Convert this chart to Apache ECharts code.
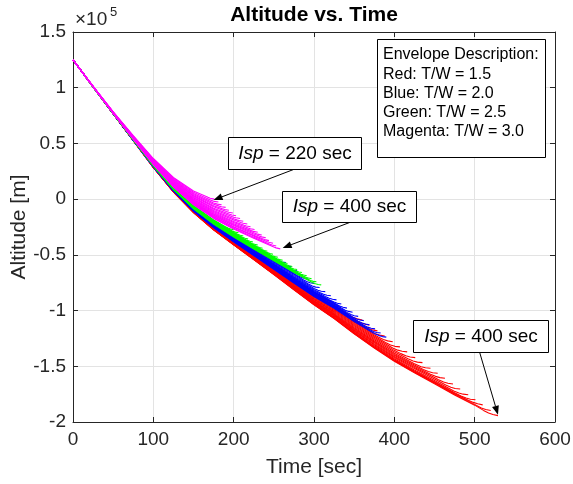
<!DOCTYPE html>
<html>
<head>
<meta charset="utf-8">
<script src="https://cdn.jsdelivr.net/npm/echarts@6/dist/echarts.min.js"></script>
<style>html,body{margin:0;padding:0;background:#fff}#c{width:573px;height:484px}</style>
</head>
<body>
<div id="c"></div>
<script>
// ---------- data ----------
const xTicks = [0, 100, 200, 300, 400, 500, 600];
const yTicks = [-200000, -150000, -100000, -50000, 0, 50000, 100000, 150000];
const ispValues = [220, 230, 240, 250, 260, 270, 280, 290, 300, 310, 320, 330, 340, 350, 360, 370, 380, 390, 400];

// Path (time s, altitude m) followed by the Isp = 400 s trajectory of each envelope
const redPath = [[0,125000],[25,100800],[50,76600],[75,52600],[100,28500],[125,6500],[150,-12000],[175,-27500],[200,-41000],[225,-54200],[250,-67600],[275,-81300],[300,-94800],[325,-107100],[350,-120800],[375,-133500],[400,-145300],[425,-155700],[450,-165400],[475,-175500],[500,-184600],[529,-197000]];
const bluePath = [[0,125000],[25,100800],[50,76700],[75,52800],[100,29000],[125,7400],[150,-10700],[175,-25550],[200,-38300],[225,-50600],[250,-62900],[275,-75300],[300,-87400],[325,-98000],[350,-109900],[375,-120500],[390,-126300]];
const greenPath = [[0,125000],[25,100800],[50,76800],[75,53200],[100,29700],[125,8600],[150,-8700],[175,-22600],[200,-34200],[225,-45000],[250,-55700],[275,-66200],[300,-76000],[309,-78900]];
const magentaPath = [[0,125000],[25,100900],[50,77000],[75,53800],[100,30900],[125,10750],[150,-5300],[175,-17600],[200,-27300],[225,-35700],[250,-43700],[258,-46000]];

// End point (time, altitude) of every trajectory, one per Isp value
const redTipTime = [360,369,379,388,398,407,416,426,435,445,454,463,473,482,492,501,510,520,529];
const redTipAlt = [-108400,-113100,-118200,-122800,-128000,-132600,-137100,-142200,-146700,-151800,-156300,-160800,-165900,-170400,-175500,-180100,-184600,-189700,-194300];
const blueTipTime = [265,272,279,286,293,300,307,314,321,328,334,341,348,355,362,369,376,383,390];
const blueTipAlt = [-57000,-60700,-64400,-68100,-71800,-75600,-79300,-83000,-86700,-90400,-94100,-97800,-101500,-105200,-109000,-112700,-116400,-120100,-123800];
const greenTipTime = [200,206,212,218,224,230,236,242,249,255,261,267,273,279,285,291,297,303,309];
const greenTipAlt = [-27500,-30200,-33000,-35700,-38500,-41200,-44000,-46700,-49500,-52200,-54900,-57700,-60400,-63200,-65900,-68700,-71400,-74200,-76900];
const magentaTipTime = [176,181,185,190,194,199,203,208,212,217,221,226,230,235,240,244,249,253,258];
const magentaTipAlt = [0,-2500,-5000,-7400,-9900,-12400,-14900,-17300,-19800,-22300,-24800,-27300,-29700,-32200,-34700,-37200,-39600,-42100,-44600];

// Flattening at the end of each trajectory: [duration s, altitude kept m]
const redHook = [18, 3000];
const blueHook = [14, 2500];
const greenHook = [11, 1500];
const magentaHook = [8, 700];

const legendLines = ['Envelope Description:', 'Red: T/W = 1.5', 'Blue: T/W = 2.0', 'Green: T/W = 2.5', 'Magenta: T/W = 3.0'];
const notes = [
  {text: '220 sec', tail: [276, 27000], tip: [175, -800]},
  {text: '400 sec', tail: [346, -20500], tip: [261, -43800]},
  {text: '400 sec', tail: [506, -137000], tip: [529, -193500]}
];

// ---------- build ----------
const FONT = "'Liberation Sans', Arial, Helvetica, sans-serif";
const AX = '#262626';

function pathAt(path, t) {
  for (let i = 1; i < path.length; i++) {
    if (t <= path[i][0]) {
      const [t0, a0] = path[i - 1], [t1, a1] = path[i];
      return a0 + (a1 - a0) * (t - t0) / (t1 - t0);
    }
  }
  return path[path.length - 1][1];
}
function buildCurve(path, T, A, hook) {
  const [wl, W] = hook;
  const L = A - pathAt(path, T) - W;
  const lift = t => L * (t / T) * (t / T);
  const pts = [];
  path.forEach(([t, a]) => { if (t < T - wl) pts.push([t, a + lift(t)]); });
  [0, 0.35, 0.65, 1].forEach(f => {
    const t = T - wl + f * wl;
    pts.push([t, pathAt(path, t) + lift(t) + W * f * f]);
  });
  return pts;
}

const envelopes = [
  {name: 'Red', color: '#ff0000', path: redPath, T: redTipTime, A: redTipAlt, hook: redHook},
  {name: 'Blue', color: '#0000ff', path: bluePath, T: blueTipTime, A: blueTipAlt, hook: blueHook},
  {name: 'Green', color: '#00ff00', path: greenPath, T: greenTipTime, A: greenTipAlt, hook: greenHook},
  {name: 'Magenta', color: '#ff00ff', path: magentaPath, T: magentaTipTime, A: magentaTipAlt, hook: magentaHook}
];

const series = [];
envelopes.forEach(env => {
  ispValues.forEach((isp, k) => {
    series.push({
      name: env.name + ' Isp ' + isp,
      type: 'line',
      data: buildCurve(env.path, env.T[k], env.A[k], env.hook),
      showSymbol: false, symbol: 'none', silent: true, animation: false,
      smooth: false,
      lineStyle: {color: env.color, width: 1.1}
    });
  });
});

const xMin = xTicks[0], xMax = xTicks[xTicks.length - 1], xInt = xTicks[1] - xTicks[0];
const yMin = yTicks[0], yMax = yTicks[yTicks.length - 1], yInt = yTicks[1] - yTicks[0];

function axisBase(min, max, interval) {
  return {
    type: 'value', min, max, interval,
    axisLine: {show: true, onZero: false, lineStyle: {color: AX, width: 1}},
    axisTick: {show: true, inside: true, length: 5, lineStyle: {color: AX, width: 1}},
    splitLine: {show: false}
  };
}

const option = {
  animation: false,
  backgroundColor: '#fff',
  grid: {left: 73, right: 18, top: 32, bottom: 62, containLabel: false, outerBoundsMode: 'none'},
  xAxis: [
    Object.assign(axisBase(xMin, xMax, xInt), {
      position: 'bottom',
      axisLabel: {color: AX, fontSize: 19, fontFamily: FONT, margin: 8, showMinLabel: true, showMaxLabel: true},
      splitLine: {show: true, lineStyle: {color: '#e3e3e3', width: 1}},
      name: 'Time [sec]', nameLocation: 'middle', nameGap: 35, nameMoveOverlap: false,
      nameTextStyle: {color: AX, fontSize: 21, fontFamily: FONT}
    }),
    Object.assign(axisBase(xMin, xMax, xInt), {position: 'top', axisLabel: {show: false}})
  ],
  yAxis: [
    Object.assign(axisBase(yMin, yMax, yInt), {
      position: 'left',
      axisLabel: {color: AX, fontSize: 19, fontFamily: FONT, margin: 7, showMinLabel: true, showMaxLabel: true,
        formatter: v => String(v / 1e5)},
      splitLine: {show: true, lineStyle: {color: '#e3e3e3', width: 1}},
      name: 'Altitude [m]', nameLocation: 'middle', nameGap: 43, nameRotate: 90, nameMoveOverlap: false,
      nameTextStyle: {color: AX, fontSize: 21, fontFamily: FONT}
    }),
    Object.assign(axisBase(yMin, yMax, yInt), {position: 'right', axisLabel: {show: false}})
  ],
  series
};

const chart = echarts.init(document.getElementById('c'), null, {renderer: 'canvas', width: 573, height: 484});
chart.setOption(option);

const P = d => chart.convertToPixel({xAxisIndex: 0, yAxisIndex: 0}, d);
const g = [];
// title and exponent
g.push({type: 'text', x: 314, y: 15, z: 100, style: {text: 'Altitude vs. Time', fontSize: 21, fontWeight: 'bold', fontFamily: FONT, fill: '#000', align: 'center', verticalAlign: 'middle'}});
g.push({type: 'text', x: 75, y: 20, z: 100, style: {text: '\u00d710', fontSize: 19, fontFamily: FONT, fill: AX, align: 'left', verticalAlign: 'middle'}});
g.push({type: 'text', x: 110, y: 12, z: 100, style: {text: '5', fontSize: 13, fontFamily: FONT, fill: AX, align: 'left', verticalAlign: 'middle'}});

// envelope description box
g.push({type: 'rect', z: 100, shape: {x: 377.5, y: 39.5, width: 168, height: 118}, style: {fill: '#fff', stroke: '#000', lineWidth: 1}});
legendLines.forEach((s, i) => {
  g.push({type: 'text', x: 383, y: 55 + i * 19.2, z: 101, style: {text: s, fontSize: 16, fontFamily: FONT, fill: '#000', align: 'left', verticalAlign: 'middle'}});
});

// annotation boxes
const boxes = [
  {x: 228.5, y: 137.5, w: 133, h: 32},
  {x: 282.5, y: 191.5, w: 134, h: 31},
  {x: 413.5, y: 320.5, w: 135, h: 32}
];
notes.forEach((n, i) => {
  const a = P(n.tail), b = P(n.tip);
  const dx = b[0] - a[0], dy = b[1] - a[1], len = Math.hypot(dx, dy), ux = dx / len, uy = dy / len;
  const hl = 9, hw = 3.5, bx = b[0] - ux * hl, by = b[1] - uy * hl;
  g.push({type: 'line', z: 100, shape: {x1: a[0], y1: a[1], x2: bx, y2: by}, style: {stroke: '#000', lineWidth: 1}});
  g.push({type: 'polygon', z: 100, shape: {points: [[b[0], b[1]], [bx - uy * hw, by + ux * hw], [bx + uy * hw, by - ux * hw]]}, style: {fill: '#000'}});
  const bx0 = boxes[i];
  g.push({type: 'rect', z: 100, shape: {x: bx0.x, y: bx0.y, width: bx0.w, height: bx0.h}, style: {fill: '#fff', stroke: '#000', lineWidth: 1}});
  g.push({type: 'text', x: bx0.x + bx0.w / 2, y: bx0.y + bx0.h / 2, z: 101,
    style: {text: '{i|Isp} = ' + n.text, rich: {i: {fontStyle: 'italic', fontSize: 19, fontFamily: FONT, fill: '#000'}},
      fontSize: 19, fontFamily: FONT, fill: '#000', align: 'center', verticalAlign: 'middle'}});
});
chart.setOption({graphic: g});
</script>
</body>
</html>
